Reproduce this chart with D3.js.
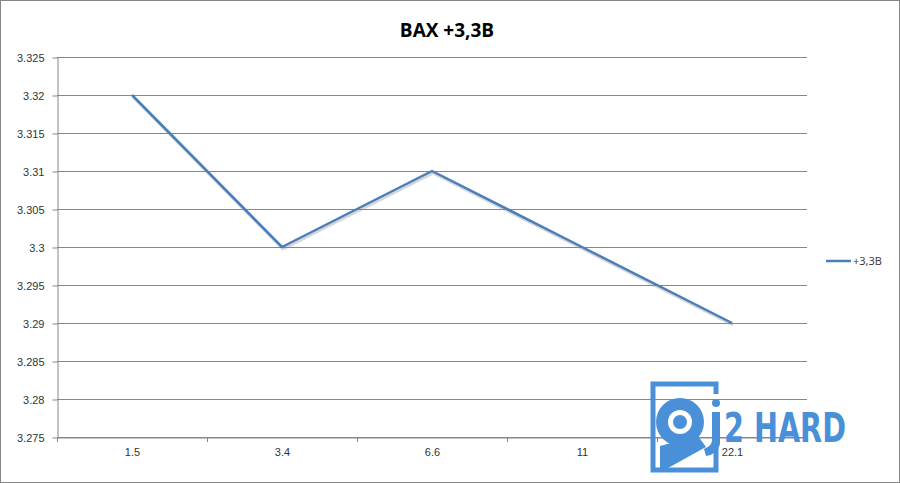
<!DOCTYPE html>
<html>
<head>
<meta charset="utf-8">
<script src="https://cdn.jsdelivr.net/npm/d3@7"></script>
<style>
  body { margin: 0; background: #fff; }
  svg { display: block; font-family: "Open Sans", "Liberation Sans", sans-serif; }
</style>
</head>
<body>
<script>
const categories = ["1.5", "3.4", "6.6", "11", "22.1"];
const values = [3.32, 3.30, 3.31, 3.30, 3.29];
const yTicks = [3.275, 3.28, 3.285, 3.29, 3.295, 3.3, 3.305, 3.31, 3.315, 3.32, 3.325];
const seriesName = "+3,3В";
const title = "ВАХ +3,3В";

const width = 900, height = 483;
const margin = { top: 57, right: 93, bottom: 46, left: 57 };

const svg = d3.select("body").append("svg")
    .attr("width", width)
    .attr("height", height);

// chart border
svg.append("rect")
    .attr("x", 0.5).attr("y", 0.5)
    .attr("width", width - 1).attr("height", height - 1)
    .attr("fill", "#fff")
    .attr("stroke", "#868686");

const x = d3.scaleBand()
    .domain(categories)
    .range([margin.left, width - margin.right]);

const y = d3.scaleLinear()
    .domain([3.275, 3.325])
    .range([height - margin.bottom, margin.top]);

// gridlines
svg.append("g")
    .attr("stroke", "#878787")
    .selectAll("line")
    .data(yTicks)
    .join("line")
    .attr("x1", margin.left)
    .attr("x2", width - margin.right)
    .attr("y1", d => Math.round(y(d)) + 0.5)
    .attr("y2", d => Math.round(y(d)) + 0.5);

// y axis
svg.append("g")
    .attr("transform", `translate(${margin.left + 0.5},0.5)`)
    .call(d3.axisLeft(y).tickValues(yTicks).tickFormat(d3.format("")).tickSize(5).tickSizeOuter(0))
    .call(g => g.selectAll("path, line").attr("stroke", "#878787"))
    .call(g => g.selectAll("text").attr("fill", "#333").attr("font-size", 11).attr("x", -13));

// x axis
svg.append("g")
    .attr("transform", `translate(0.5,${height - margin.bottom + 0.5})`)
    .call(d3.axisBottom(x).tickSize(0).tickSizeOuter(0))
    .call(g => g.select(".domain").attr("stroke", "#878787"))
    .call(g => g.selectAll("text").attr("fill", "#333").attr("font-size", 11).attr("dy", "1.4em"));

// x tick marks on band boundaries
const bounds = categories.map(c => x(c)).concat([x(categories[categories.length - 1]) + x.bandwidth()]);
svg.append("g")
    .attr("stroke", "#878787")
    .selectAll("line")
    .data(bounds)
    .join("line")
    .attr("x1", d => Math.round(d) + 0.5)
    .attr("x2", d => Math.round(d) + 0.5)
    .attr("y1", height - margin.bottom)
    .attr("y2", height - margin.bottom + 5);

// series line
const line = d3.line()
    .x((d, i) => x(categories[i]) + x.bandwidth() / 2)
    .y(d => y(d));

svg.append("path")
    .datum(values)
    .attr("fill", "none")
    .attr("stroke", "#8a8a8a")
    .attr("stroke-opacity", 0.35)
    .attr("stroke-width", 3)
    .attr("transform", "translate(1,2)")
    .attr("d", line);

svg.append("path")
    .datum(values)
    .attr("fill", "none")
    .attr("stroke", "#4a7ebb")
    .attr("stroke-width", 2.5)
    .attr("stroke-linejoin", "round")
    .attr("d", line);

// title
svg.append("text")
    .attr("x", 447)
    .attr("y", 37)
    .attr("text-anchor", "middle")
    .attr("font-size", 19)
    .attr("font-weight", "bold")
    .attr("fill", "#000")
    .text(title);

// legend
const legend = svg.append("g").attr("transform", "translate(826,261)");
legend.append("line")
    .attr("x1", 0).attr("x2", 25)
    .attr("stroke", "#4a7ebb")
    .attr("stroke-width", 2.5);
legend.append("text")
    .attr("x", 27)
    .attr("y", 4)
    .attr("font-size", 11)
    .attr("fill", "#333")
    .text(seriesName);

// watermark logo
const blue = "#4a90d9";
const wm = svg.append("g");
wm.append("path")
    .attr("fill", "none")
    .attr("stroke", blue)
    .attr("stroke-width", 5)
    .attr("d", "M716,394 V384 H653 V470 H716 V448");
wm.append("circle").attr("cx", 680).attr("cy", 422).attr("r", 24).attr("fill", blue);
wm.append("circle").attr("cx", 680).attr("cy", 422).attr("r", 12).attr("fill", "#fff");
wm.append("circle").attr("cx", 680).attr("cy", 422).attr("r", 7).attr("fill", blue);
wm.append("path")
    .attr("fill", blue)
    .attr("d", "M660,446 L698,436 L706,447 L668,468 L660,468 Z");
// "j" stroke
wm.append("circle").attr("cx", 716).attr("cy", 403).attr("r", 4).attr("fill", blue);
wm.append("path")
    .attr("fill", blue)
    .attr("d", "M712,412 H720 V444 Q718,454 706,456 L704,449 Q712,446 712,440 Z");
wm.append("text")
    .attr("x", 724)
    .attr("y", 442)
    .attr("fill", blue)
    .attr("font-size", 40)
    .attr("font-weight", "bold")
    .attr("font-family", "'DejaVu Sans Condensed', 'Liberation Sans Narrow', sans-serif")
    .attr("textLength", 122)
    .attr("lengthAdjust", "spacingAndGlyphs")
    .text("2 HARD");
</script>
</body>
</html>
